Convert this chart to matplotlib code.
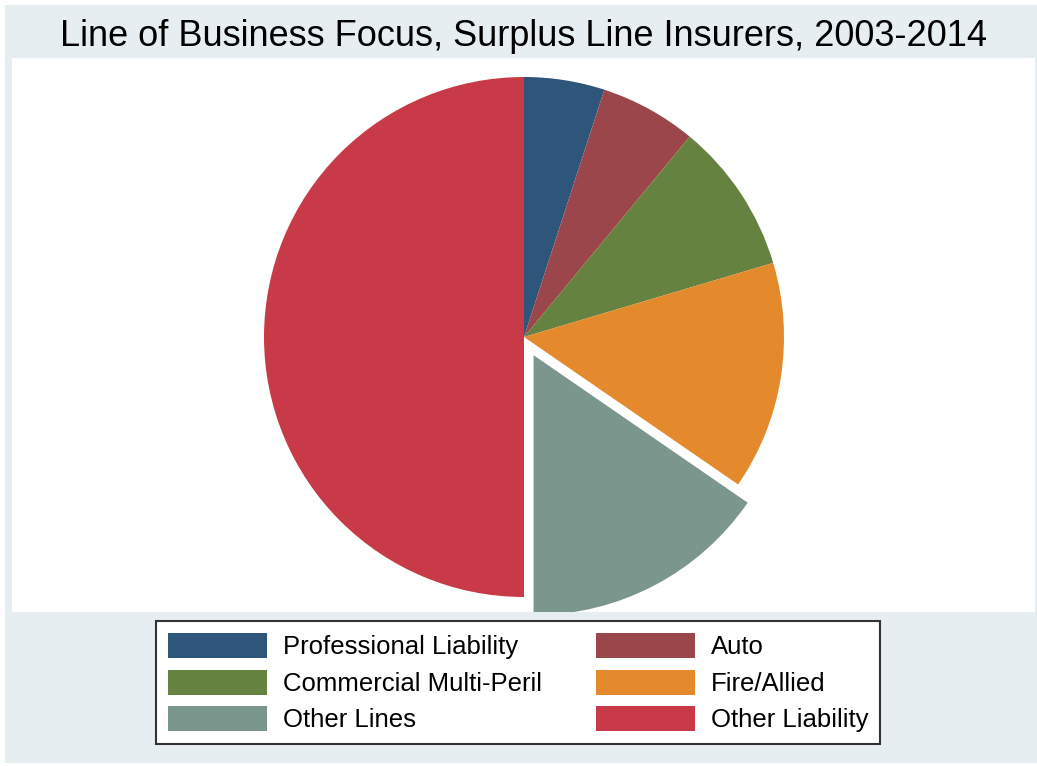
import matplotlib
matplotlib.use("Agg")
import matplotlib.pyplot as plt
from matplotlib.patches import Rectangle, Patch
from matplotlib.transforms import Bbox, TransformedBbox

categories = ["Professional Liability", "Auto", "Commercial Multi-Peril",
              "Fire/Allied", "Other Lines", "Other Liability"]
shares = [5.0, 6.0, 9.4, 14.2, 15.4, 50.0]
colors = ["#2e567a", "#9b464a", "#668241", "#e48a2d", "#7b968d", "#c83a47"]
explode = [0, 0, 0, 0, 0.079, 0]
title = "Line of Business Focus, Surplus Line Insurers, 2003-2014"

W, H = 1037, 766
FONT = ["Liberation Sans", "DejaVu Sans"]
fig = plt.figure(figsize=(W / 100, H / 100), dpi=100)
fig.patch.set_facecolor("white")

def fx(x): return x / W
def fy(y): return 1 - y / H

# outer graph region (light grey) and plot region (white)
fig.patches.append(Rectangle((fx(5), fy(763)), fx(1037) - fx(5), fy(5) - fy(763),
                             transform=fig.transFigure, facecolor="#e7eef1",
                             edgecolor="none", zorder=-2))
fig.patches.append(Rectangle((fx(12), fy(612)), fx(1035) - fx(12), fy(58) - fy(612),
                             transform=fig.transFigure, facecolor="white",
                             edgecolor="none", zorder=-1))

fig.text(fx(524), fy(37), title, ha="center", va="center", fontsize=26,
         family=FONT, color="black")

# pie axes
cx, cy, r = 524, 337, 260
half = r * 1.2
ax = fig.add_axes([fx(cx - half), fy(cy + half), 2 * half / W, 2 * half / H])
ax.set_zorder(1)
ax.axis("off")
ax.patch.set_alpha(0)
wedges, _ = ax.pie(shares, colors=colors, explode=explode, startangle=90,
                   counterclock=False, radius=1.0,
                   wedgeprops=dict(linewidth=0))
ax.set_xlim(-1.2, 1.2)
ax.set_ylim(-1.2, 1.2)
ax.set_aspect("equal")
clipbox = TransformedBbox(Bbox([[fx(12), fy(612)], [fx(1035), fy(58)]]),
                          fig.transFigure)
for w in wedges:
    w.set_clip_box(clipbox)
    w.set_clip_on(True)

# legend (row-wise order in two columns)
handles = [Patch(facecolor=c, edgecolor="none") for c in colors]
order = [0, 2, 4, 1, 3, 5]
leg = fig.legend([handles[i] for i in order], [categories[i] for i in order],
                 ncol=2, loc="upper left", bbox_to_anchor=(fx(156), fy(621)),
                 bbox_transform=fig.transFigure, borderaxespad=0,
                 prop=dict(family=FONT, size=18.5),
                 handlelength=3.85, handleheight=1.12, handletextpad=0.62,
                 labelspacing=0.4, columnspacing=2.1, borderpad=0.47,
                 frameon=True, fancybox=False, edgecolor="#333333",
                 facecolor="white", framealpha=1)
leg.set_zorder(2)
leg.get_frame().set_linewidth(1.5)

fig.savefig("out.png", dpi=100, facecolor=fig.get_facecolor())
